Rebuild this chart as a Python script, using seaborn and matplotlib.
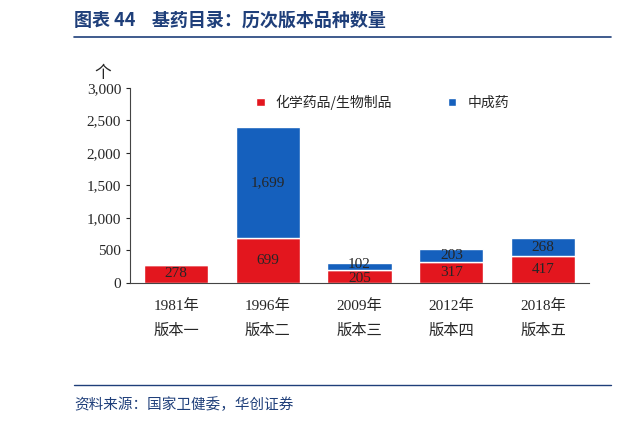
import seaborn as sns
import matplotlib.pyplot as plt
import pandas as pd

years = ["1981年\n版本一", "1996年\n版本二", "2009年\n版本三", "2012年\n版本四", "2018年\n版本五"]
chem = [278, 699, 205, 317, 417]
tcm = [0, 1699, 102, 203, 268]

red = "#E3161E"
blue = "#1560BD"
navy = "#1F3F7A"

sns.set_style("white")
plt.rcParams['font.family'] = ['Liberation Serif', 'Noto Sans CJK SC']

fig = plt.figure(figsize=(6.2, 4.23), dpi=100)
ax = fig.add_axes([0.21, 0.331, 0.74, 0.461])

df = pd.DataFrame({"year": years, "chem": chem, "tcm": tcm})
sns.barplot(data=df, x="year", y="chem", color=red, width=0.7, saturation=1, ax=ax, label="化学药品/生物制品")
sns.barplot(data=df, x="year", y="tcm", color=blue, width=0.7, saturation=1, ax=ax, bottom=chem, label="中成药")

for i, (c, t) in enumerate(zip(chem, tcm)):
    small = t and t < 150
    ax.text(i, c / 2 - (30 if small else 0), str(c), ha="center", va="center", fontsize=11)
    if t:
        ax.text(i, c + t / 2 + (30 if small else 0), f"{t:,}", ha="center", va="center", fontsize=11)

ax.set_ylim(0, 3000)
ax.set_yticks(range(0, 3001, 500))
ax.set_yticklabels([f"{v:,}" for v in range(0, 3001, 500)], fontsize=11)
ax.tick_params(axis="x", labelsize=11, pad=8)
for lab in ax.get_xticklabels():
    lab.set_linespacing(2.0)
ax.set_xlabel("")
ax.set_ylabel("")
for s in ["top", "right"]:
    ax.spines[s].set_visible(False)
ax.spines["left"].set_color("#444444")
ax.spines["bottom"].set_color("#444444")
ax.tick_params(axis="y", length=3, left=True)
ax.text(-0.06, 1.05, "个", transform=ax.transAxes, ha="center", fontsize=12, family="Noto Sans CJK SC")

ax.legend(loc="upper center", bbox_to_anchor=(0.55, 1.03), ncol=2, frameon=False,
          prop={"family": "Noto Sans CJK SC", "size": 10}, handlelength=0.6, handleheight=0.6,
          columnspacing=4)

fig.text(0.12, 0.953, "图表 44    基药目录：历次版本品种数量", fontsize=13, weight="bold",
         color=navy, va="center", family=["Noto Sans CJK SC"])
fig.add_artist(plt.Line2D([0.12, 0.985], [0.913, 0.913], color=navy, lw=1.2))
fig.add_artist(plt.Line2D([0.12, 0.985], [0.09, 0.09], color=navy, lw=1.0))
fig.text(0.12, 0.043, "资料来源：国家卫健委，华创证券", fontsize=10.5, style="italic",
         color=navy, va="center", family=["Noto Sans CJK SC"])

fig.savefig("out.png", dpi=100)
